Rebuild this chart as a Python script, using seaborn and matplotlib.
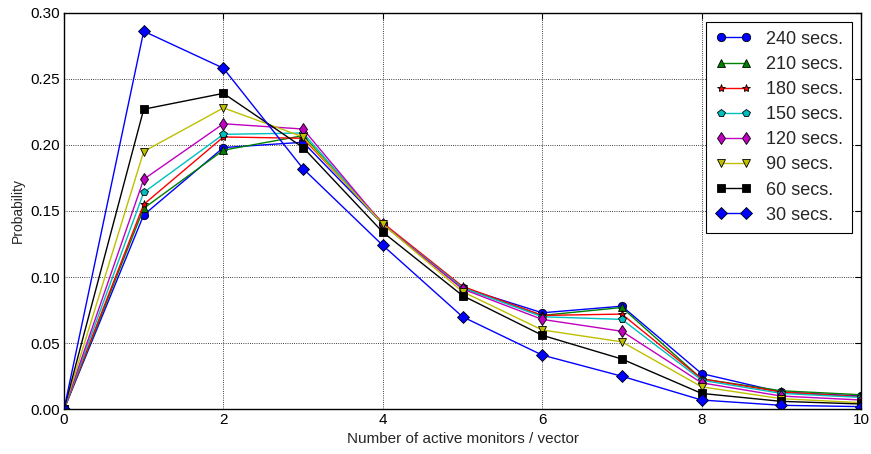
import matplotlib
matplotlib.use("Agg")
import matplotlib.pyplot as plt
import seaborn as sns
import numpy as np

# Active monitors per vector (0..10)
monitors = [0, 1, 2, 3, 4, 5, 6, 7, 8, 9, 10]

labels = ["240 secs.", "210 secs.", "180 secs.", "150 secs.",
          "120 secs.", "90 secs.", "60 secs.", "30 secs."]

p240 = [0.0, 0.147, 0.198, 0.202, 0.140, 0.092, 0.073, 0.078, 0.027, 0.013, 0.010]
p210 = [0.0, 0.152, 0.196, 0.207, 0.140, 0.092, 0.071, 0.077, 0.023, 0.014, 0.011]
p180 = [0.0, 0.155, 0.206, 0.205, 0.141, 0.093, 0.071, 0.072, 0.023, 0.013, 0.0095]
p150 = [0.0, 0.164, 0.208, 0.209, 0.140, 0.092, 0.070, 0.068, 0.022, 0.012, 0.009]
p120 = [0.0, 0.174, 0.216, 0.212, 0.140, 0.091, 0.068, 0.059, 0.020, 0.010, 0.007]
p90 = [0.0, 0.195, 0.228, 0.206, 0.140, 0.089, 0.060, 0.051, 0.017, 0.008, 0.005]
p60 = [0.0, 0.227, 0.239, 0.198, 0.134, 0.086, 0.056, 0.038, 0.012, 0.006, 0.004]
p30 = [0.0, 0.286, 0.258, 0.182, 0.124, 0.070, 0.041, 0.025, 0.007, 0.003, 0.002]

series = [p240, p210, p180, p150, p120, p90, p60, p30]
colors = ["b", "g", "r", "c", "m", "y", "k", "b"]
markers = ["o", "^", "*", "p", "d", "v", "s", "D"]

sns.set_style("white")
plt.rcParams["font.family"] = ["Liberation Sans", "DejaVu Sans"]

fig = plt.figure(figsize=(8.71, 4.54), dpi=100)
ax = fig.add_axes([0.0735, 0.0985, 0.915, 0.8735])

for lab, ys, c, m in zip(labels, series, colors, markers):
    sns.lineplot(x=monitors, y=ys, ax=ax, color=c, marker=m, markersize=6,
                 markeredgecolor="k", markeredgewidth=0.6, linewidth=1.0,
                 label=lab, legend=False)

ax.set_xlim(0, 10)
ax.set_ylim(0, 0.30)
ax.set_xticks(np.arange(0, 11, 2))
ax.set_yticks(np.arange(0, 0.301, 0.05))
ax.set_yticklabels([f"{v:.2f}" for v in np.arange(0, 0.301, 0.05)])
ax.grid(True, color="k", linestyle=":", linewidth=0.6)
ax.tick_params(direction="in", top=True, right=True, length=4, width=0.8,
               labelsize=11, colors="k", pad=3)
for s in ax.spines.values():
    s.set_color("k")
    s.set_linewidth(1.0)

ax.set_xlabel("Number of active monitors / vector", fontsize=11, labelpad=3)
ax.set_ylabel("Probability", fontsize=10)

handles = ax.get_lines()
leg = ax.legend(handles[:len(labels)], labels, loc="upper right", numpoints=2,
                fontsize=13, fancybox=False, framealpha=1.0, edgecolor="k",
                borderpad=0.5, labelspacing=0.45, handlelength=2.0)
leg.get_frame().set_linewidth(0.8)

fig.savefig("out.png", dpi=100)
